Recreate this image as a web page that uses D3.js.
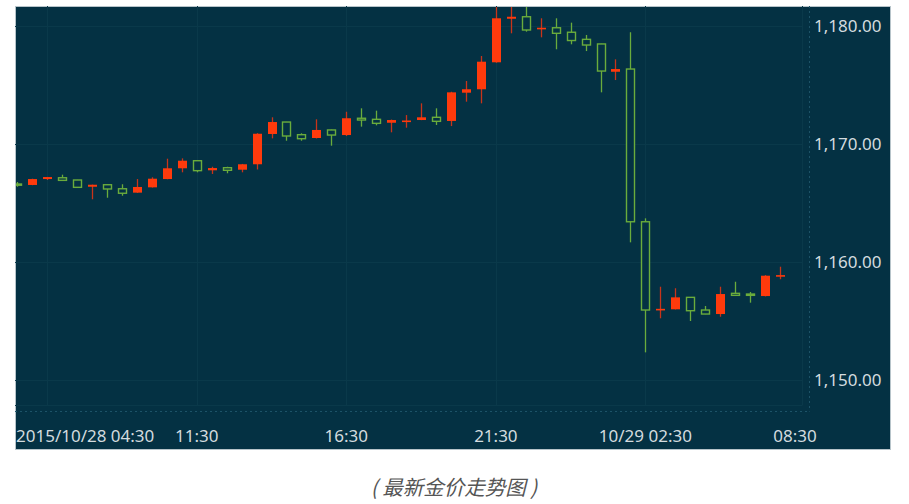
<!DOCTYPE html>
<html><head><meta charset="utf-8">
<script src="https://cdn.jsdelivr.net/npm/d3@7"></script>
<style>html,body{margin:0;padding:0;background:#fff;}svg{display:block;}</style>
</head><body>
<svg id="chart" width="909" height="504"></svg>
<script>
// ---- data (half-hour gold candles) ----
const opens  = [1166.60,1166.52,1167.02,1167.13,1166.94,1166.37,1166.54,1166.20,1165.87,1166.32,
                1167.02,1167.93,1168.57,1167.76,1167.98,1167.81,1168.27,1170.83,1171.84,1170.77,
                1170.49,1171.17,1170.74,1172.16,1172.07,1171.78,1171.93,1172.01,1172.24,1171.93,
                1174.32,1174.61,1176.89,1180.57,1180.74,1179.68,1179.81,1179.43,1178.83,1178.44,
                1176.09,1176.32,1163.41,1155.95,1156.01,1157.02,1155.95,1155.61,1157.36,1157.30,
                1157.13,1158.82];
const closes = [1166.55,1167.02,1167.19,1166.91,1166.32,1166.54,1166.18,1165.82,1166.35,1167.05,
                1167.93,1168.57,1167.73,1167.95,1167.76,1168.27,1170.85,1171.84,1170.66,1170.43,
                1171.17,1170.74,1172.16,1172.01,1171.73,1172.01,1171.97,1172.24,1171.90,1174.35,
                1174.61,1176.94,1180.61,1180.74,1179.62,1179.81,1179.34,1178.73,1178.35,1176.15,
                1176.32,1163.41,1155.95,1156.05,1157.02,1155.89,1155.61,1157.30,1157.19,1157.19,
                1158.85,1158.90];
const highs  = [1166.77,1167.05,1167.20,1167.39,1166.95,1166.55,1166.55,1166.58,1167.02,1167.17,
                1168.74,1168.77,1168.60,1168.06,1168.06,1168.30,1170.90,1172.24,1171.85,1170.89,
                1172.07,1171.20,1172.71,1173.00,1172.80,1172.05,1172.43,1173.42,1173.00,1174.40,
                1175.31,1177.42,1181.80,1181.90,1181.70,1180.61,1180.61,1180.24,1179.20,1178.45,
                1177.14,1179.43,1163.70,1157.92,1157.79,1157.05,1156.29,1157.92,1158.34,1157.47,
                1158.90,1159.61];
const lows   = [1166.37,1166.50,1166.94,1166.90,1166.30,1165.31,1165.44,1165.61,1165.85,1166.30,
                1167.00,1167.59,1167.59,1167.45,1167.51,1167.59,1167.83,1170.46,1170.26,1170.26,
                1170.45,1169.84,1170.66,1171.45,1171.56,1170.97,1171.36,1172.00,1171.59,1171.50,
                1173.56,1173.42,1176.85,1179.34,1179.48,1179.00,1177.99,1178.41,1177.84,1174.35,
                1175.39,1161.67,1152.37,1155.25,1156.00,1155.02,1155.60,1155.38,1157.18,1156.57,
                1157.10,1158.55];
const xTickIndex  = [2, 12, 22, 32, 42, 52];
const xTickLabels = ["2015/10/28 04:30", "11:30", "16:30", "21:30", "10/29 02:30", "08:30"];
const yTicks = [1150, 1160, 1170, 1180];
const caption = "( 最新金价走势图 )";

// ---- layout ----
const svg = d3.select("#chart");
const panel = {x: 15, y: 6, w: 875, h: 443};
const plot = {left: 15, right: 802, top: 6, bottom: 405};
const BG = "#043143", GRID = "#0a394a", AXIS = "#1d5368", TXT = "#d3dbdf";
const UP = "#ff3a0c", UPWICK = "#c8341a", DOWN = "#6aac3c";
const font = "'Noto Sans','Open Sans',sans-serif";

const x = d3.scaleLinear().domain([0, 51]).range([17.3, 780]);
const y = d3.scaleLinear().domain([1150, 1180]).range([380.4, 25.5]);

svg.append("rect").attr("x", panel.x + 0.5).attr("y", panel.y + 0.5)
  .attr("width", panel.w).attr("height", panel.h)
  .attr("fill", BG).attr("stroke", "#b7c4ca").attr("stroke-width", 1);

svg.append("defs").append("clipPath").attr("id", "clip")
  .append("rect").attr("x", plot.left + 1).attr("y", plot.top + 1)
  .attr("width", plot.right - plot.left - 1).attr("height", plot.bottom - plot.top - 1);

// grid
const grid = svg.append("g");
grid.selectAll("line.h").data(yTicks).join("line")
  .attr("x1", plot.left).attr("x2", plot.right)
  .attr("y1", d => Math.round(y(d)) + 0.5).attr("y2", d => Math.round(y(d)) + 0.5)
  .attr("stroke", GRID).attr("stroke-width", 1);
grid.selectAll("line.v").data(xTickIndex.slice(0, 5)).join("line")
  .attr("y1", plot.top).attr("y2", plot.bottom)
  .attr("x1", d => Math.round(x(d)) + 0.5).attr("x2", d => Math.round(x(d)) + 0.5)
  .attr("stroke", GRID).attr("stroke-width", 1);
grid.append("line").attr("x1", plot.left).attr("x2", plot.right + 0.5)
  .attr("y1", plot.bottom + 0.5).attr("y2", plot.bottom + 0.5).attr("stroke", GRID);
grid.append("line").attr("x1", plot.right + 0.5).attr("x2", plot.right + 0.5)
  .attr("y1", plot.top).attr("y2", plot.bottom).attr("stroke", GRID);

// dotted axis lines
svg.append("line").attr("x1", plot.left).attr("x2", 809.5)
  .attr("y1", 411.5).attr("y2", 411.5)
  .attr("stroke", AXIS).attr("stroke-dasharray", "2,3");
svg.append("line").attr("x1", 809.5).attr("x2", 809.5)
  .attr("y1", plot.top).attr("y2", 411.5)
  .attr("stroke", AXIS).attr("stroke-dasharray", "2,3");

// candles
const idx = d3.range(opens.length);
const cg = svg.append("g").attr("clip-path", "url(#clip)");
const bw = 9;
const c = cg.selectAll("g.c").data(idx).join("g");
c.append("line")
  .attr("x1", i => Math.round(x(i)) + 0.5).attr("x2", i => Math.round(x(i)) + 0.5)
  .attr("y1", i => y(highs[i])).attr("y2", i => y(lows[i]))
  .attr("stroke", i => closes[i] >= opens[i] ? UPWICK : DOWN).attr("stroke-width", 1.3);
c.each(function(i) {
  const g = d3.select(this);
  const up = closes[i] >= opens[i];
  const top = y(Math.max(opens[i], closes[i]));
  const bot = y(Math.min(opens[i], closes[i]));
  const cx = Math.round(x(i)) + 0.5;
  if (up) {
    g.append("rect").attr("x", cx - bw / 2).attr("y", top)
      .attr("width", bw).attr("height", Math.max(bot - top, 1.6))
      .attr("fill", UP);
  } else {
    g.append("rect").attr("x", cx - bw / 2 + 0.5).attr("y", top)
      .attr("width", bw - 1).attr("height", Math.max(bot - top, 1.2))
      .attr("fill", BG).attr("stroke", DOWN).attr("stroke-width", 1.4);
  }
});

// y axis labels
svg.append("g").selectAll("text").data(yTicks).join("text")
  .attr("x", 814).attr("y", d => y(d) + 6)
  .attr("fill", TXT).attr("font-family", font).attr("font-size", 17)
  .text(d => d3.format(",.2f")(d));

// x axis labels
svg.append("g").selectAll("text").data(xTickIndex).join("text")
  .attr("x", (d, i) => i === 0 ? 16 : x(d))
  .attr("y", 442)
  .attr("text-anchor", (d, i) => i === 0 ? "start" : "middle")
  .attr("fill", TXT).attr("font-family", font).attr("font-size", 17)
  .text((d, i) => xTickLabels[i]);

// caption
svg.append("text").attr("x", 454).attr("y", 495).attr("text-anchor", "middle")
  .attr("fill", "#555").attr("font-style", "italic")
  .attr("font-family", "'Noto Sans CJK SC','Noto Sans',sans-serif").attr("font-size", 20.5)
  .text(caption);
</script>
</body></html>
